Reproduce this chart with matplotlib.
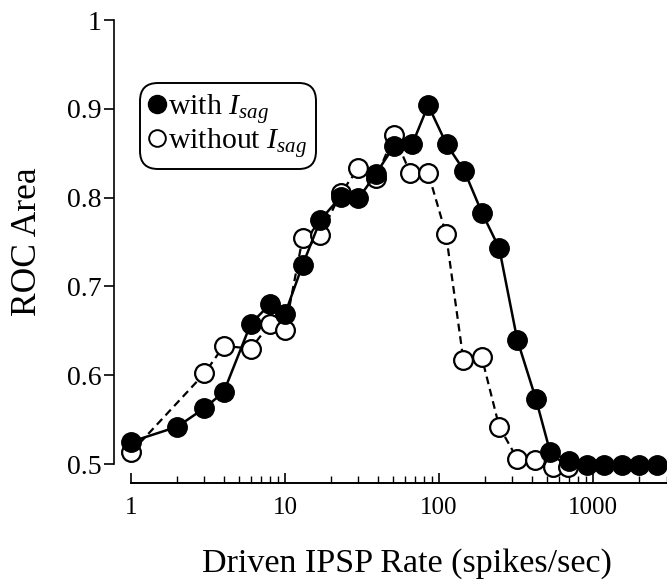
import matplotlib
matplotlib.use("Agg")
import matplotlib.pyplot as plt
from matplotlib.lines import Line2D
from matplotlib.ticker import LogLocator, FixedLocator, NullFormatter

plt.rcParams['font.family'] = ['Liberation Serif', 'DejaVu Serif']
plt.rcParams['mathtext.fontset'] = 'custom'
plt.rcParams['mathtext.rm'] = 'Liberation Serif'
plt.rcParams['mathtext.it'] = 'Liberation Serif:italic'

# data
x_with = [1, 2, 3, 4, 6, 8, 10, 13, 17, 23, 30, 39, 51, 67, 85, 112, 146, 190,
          246, 322, 426, 526, 702, 910, 1178, 1536, 1996, 2614]
y_with = [0.525, 0.542, 0.563, 0.581, 0.658, 0.680, 0.669, 0.724, 0.775, 0.801,
          0.799, 0.827, 0.858, 0.860, 0.904, 0.860, 0.830, 0.783, 0.743, 0.640,
          0.573, 0.514, 0.503, 0.499, 0.499, 0.499, 0.499, 0.499]
x_without = [1, 3, 4, 6, 8, 10, 13, 17, 23, 30, 39, 51, 65, 85, 111, 144, 189,
             246, 322, 420, 552, 690]
y_without = [0.513, 0.602, 0.633, 0.630, 0.658, 0.651, 0.754, 0.758, 0.805,
             0.833, 0.822, 0.870, 0.828, 0.828, 0.759, 0.617, 0.621, 0.542,
             0.506, 0.504, 0.497, 0.497]
y_ticks = [0.5, 0.6, 0.7, 0.8, 0.9, 1.0]
y_ticklabels = ['0.5', '0.6', '0.7', '0.8', '0.9', '1']
x_ticks = [1, 10, 100, 1000]
x_ticklabels = ['1', '10', '100', '1000']

W, H = 667, 584
fig = plt.figure(figsize=(W / 100, H / 100), dpi=100)
left = 131 / W
right = 666.5 / W
bottom = (H - 464) / H
top = (H - 20) / H
ax = fig.add_axes([left, bottom, right - left, top - bottom])

ax.plot(x_without, y_without, ls=(0, (3.5, 2.2)), color='black', lw=1.6,
        marker='o', ms=13.5, mfc='white', mec='black', mew=1.6,
        clip_on=False, zorder=3)
ax.plot(x_with, y_with, ls='-', color='black', lw=1.8,
        marker='o', ms=14, mfc='black', mec='black', mew=1,
        clip_on=False, zorder=4)

ax.set_xscale('log')
ax.set_xlim(1, 3000)
ax.set_ylim(0.5, 1.0)

for s in ['top', 'right']:
    ax.spines[s].set_visible(False)
ax.spines['left'].set_position(('outward', 17 * 0.72))
ax.spines['bottom'].set_position(('outward', 19 * 0.72))
ax.spines['left'].set_linewidth(1.2)
ax.spines['bottom'].set_linewidth(1.4)

ax.set_yticks(y_ticks)
ax.set_yticklabels(y_ticklabels)
ax.xaxis.set_major_locator(FixedLocator(x_ticks))
ax.set_xticklabels(x_ticklabels)
ax.xaxis.set_minor_locator(LogLocator(base=10, subs=range(2, 10)))
ax.xaxis.set_minor_formatter(NullFormatter())
ax.tick_params(axis='y', direction='out', length=7, width=1.2, labelsize=20, pad=2)
ax.tick_params(axis='x', which='major', direction='in', length=7, width=1.2,
               labelsize=18, pad=10)
ax.tick_params(axis='x', which='minor', direction='in', length=5, width=1.0)

ax.set_xlabel('Driven IPSP Rate (spikes/sec)', fontsize=24.5)
ax.xaxis.set_label_coords(0.515, -0.19)
ax.set_ylabel('ROC Area', fontsize=25.5)
ax.yaxis.set_label_coords(-0.163, 0.5)

handles = [
    Line2D([], [], ls='none', marker='o', ms=13, mfc='black', mec='black'),
    Line2D([], [], ls='none', marker='o', ms=12, mfc='white', mec='black', mew=1.4),
]
leg = ax.legend(handles, [r'with $I_{sag}$', r'without $I_{sag}$'],
                loc='upper left', bbox_to_anchor=(140 / W, 1 - 83 / H),
                bbox_transform=fig.transFigure, borderaxespad=0,
                fontsize=21.5, handlelength=0.55, handletextpad=0.1,
                borderpad=0.3, labelspacing=0.0, frameon=True, fancybox=True,
                framealpha=1, edgecolor='black')
leg.get_frame().set_linewidth(1.4)
leg.get_frame().set_boxstyle('round,pad=0,rounding_size=0.6')

fig.savefig('out.png', dpi=100)
